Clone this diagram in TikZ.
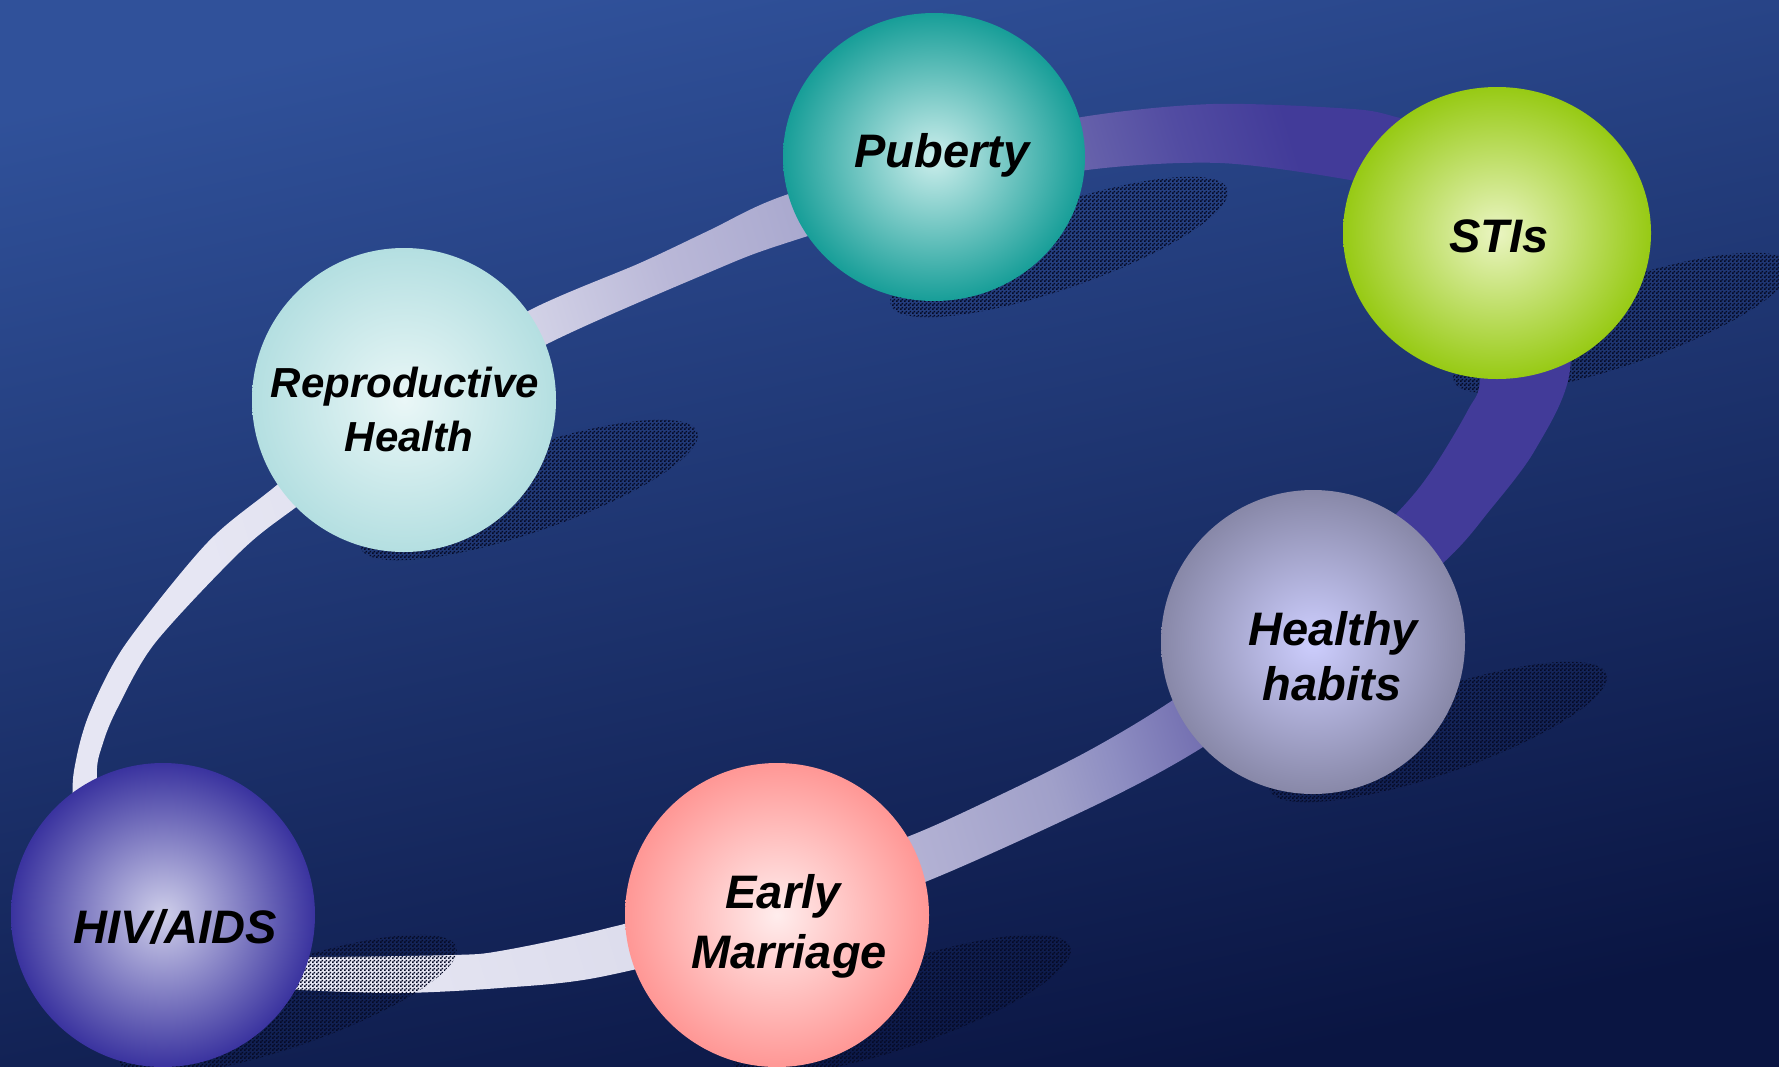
\documentclass[tikz,border=0pt]{standalone}
\usepackage{fontspec}
\setmainfont{Liberation Sans}
\usetikzlibrary{shapes.geometric,patterns}
\definecolor{bgtop}{HTML}{30519A}
\definecolor{bgbot}{HTML}{0A1542}
\definecolor{shdark}{HTML}{050A25}
\definecolor{bandA}{HTML}{E6E6F3}
\definecolor{bandB}{HTML}{DCDCEC}
\definecolor{bandC}{HTML}{BAB8D8}
\definecolor{bandD}{HTML}{AEADD1}
\definecolor{bandE}{HTML}{A0A0C9}
\definecolor{bandF}{HTML}{8E8EC2}
\definecolor{bandG}{HTML}{726EB0}
\definecolor{bandH}{HTML}{524CA2}
\definecolor{bandI}{HTML}{423B99}
\definecolor{pubin}{HTML}{CCEEEC}
\definecolor{pubout}{HTML}{179E98}
\definecolor{stiin}{HTML}{EAF5C2}
\definecolor{stiout}{HTML}{97CA14}
\definecolor{repin}{HTML}{EAF7F7}
\definecolor{repout}{HTML}{B4DFE1}
\definecolor{hhin}{HTML}{CDCEFE}
\definecolor{hhout}{HTML}{8888A8}
\definecolor{emin}{HTML}{FFEDED}
\definecolor{emout}{HTML}{FF9795}
\definecolor{hivin}{HTML}{CFCFEA}
\definecolor{hivout}{HTML}{3A339F}
\pgfdeclarehorizontalshading{bandsh}{100bp}{color(0bp)=(bandA); color(28bp)=(bandA); color(40bp)=(bandB); color(47.5bp)=(bandC); color(51.5bp)=(bandD); color(55.5bp)=(bandE); color(58bp)=(bandF); color(61.5bp)=(bandG); color(67bp)=(bandH); color(71bp)=(bandI); color(100bp)=(bandI)}
\pgfdeclarepatternformonly{chk}{\pgfpointorigin}{\pgfqpoint{4pt}{4pt}}{\pgfqpoint{4pt}{4pt}}{%
  \pgfpathrectangle{\pgfpointorigin}{\pgfqpoint{2pt}{2pt}}%
  \pgfpathrectangle{\pgfqpoint{2pt}{2pt}}{\pgfqpoint{2pt}{2pt}}%
  \pgfusepath{fill}}
\tikzset{
  ball/.style={ellipse, inner sep=0pt, draw=none, minimum width=304pt, minimum height=304pt},
  lbl/.style={font=\fontsize{47}{56}\selectfont\bfseries\itshape, anchor=base, inner sep=0pt, text=black},
  lblsm/.style={lbl, font=\fontsize{42}{50}\selectfont\bfseries\itshape},
  shadowsty/.style={pattern=chk, pattern color=shdark},
}
\begin{document}
\begin{tikzpicture}[x=1pt,y=-1pt]
\useasboundingbox (0,0) rectangle (1779,1066);
% background
\shade[top color=bgtop, bottom color=bgbot, shading angle=12] (0,0) rectangle (1779,1066);
% shadows under the band
\foreach \cx/\cy in {404/400, 934/157, 1497/233, 1313/642, 777/915}{
  \fill[shadowsty, rotate around={19:(\cx+125,\cy+90)}] (\cx+125,\cy+90) ellipse [x radius=178pt, y radius=42pt];
}
% band loop
\shade[shading=bandsh, shading angle=17, even odd rule]
  plot[smooth cycle, tension=0.5] coordinates {(300,990) (400,993) (500,988) (600,977) (770,935) (925,882) (1100,803) (1203,747) (1320,665) (1443,563) (1490,510) (1535,450) (1570,370) (1560,240) (1480,140) (1400,118) (1353,109) (1213,104) (1082,117) (930,150) (780,197) (710,230) (640,263) (530,310) (400,385) (277,485) (207,543) (125,645) (90,712) (76,760) (73,800) (85,900) (150,968) (220,985)}
  plot[smooth cycle, tension=0.5] coordinates {(310,957) (453,955) (500,951) (600,930) (770,885) (907,837) (1000,795) (1090,750) (1173,700) (1300,610) (1397,513) (1432,470) (1468,410) (1480,377) (1470,270) (1400,195) (1350,180) (1220,163) (1087,170) (930,200) (780,245) (710,272) (545,345) (420,420) (295,508) (240,552) (155,643) (118,707) (103,743) (97,778) (110,870) (180,935) (250,955)};
% HIV shadow over the band
\fill[shadowsty, rotate around={19:(288,1005)}] (288,1005) ellipse [x radius=178pt, y radius=42pt];
% circles
\node[ball, inner color=repin, outer color=repout] (rep) at (404,400) {};
\node[ball, minimum width=302pt, minimum height=288pt, inner color=pubin, outer color=pubout] (pub) at (934,157) {};
\node[ball, minimum width=308pt, minimum height=292pt, inner color=stiin, outer color=stiout] (sti) at (1497,233) {};
\node[ball, inner color=hhin, outer color=hhout] (hh) at (1313,642) {};
\node[ball, inner color=emin, outer color=emout] (em) at (777,915) {};
\node[ball, inner color=hivin, outer color=hivout] (hiv) at (163,915) {};
% labels
\node[lbl] (tpub) at (942,167) {Puberty};
\node[lbl] (tsti) at (1499,252) {STIs};
\node[lbl] (thiv) at (175,943) {HIV/AIDS};
\node[lblsm] (trep1) at (405,397) {Reproductive};
\node[lblsm] (trep2) at (409,451) {Health};
\node[lbl] (thh1) at (1333,645) {Healthy};
\node[lbl] (thh2) at (1332,700) {habits};
\node[lbl] (tem1) at (783,908) {Early};
\node[lbl] (tem2) at (789,968) {Marriage};
\end{tikzpicture}
\end{document}
